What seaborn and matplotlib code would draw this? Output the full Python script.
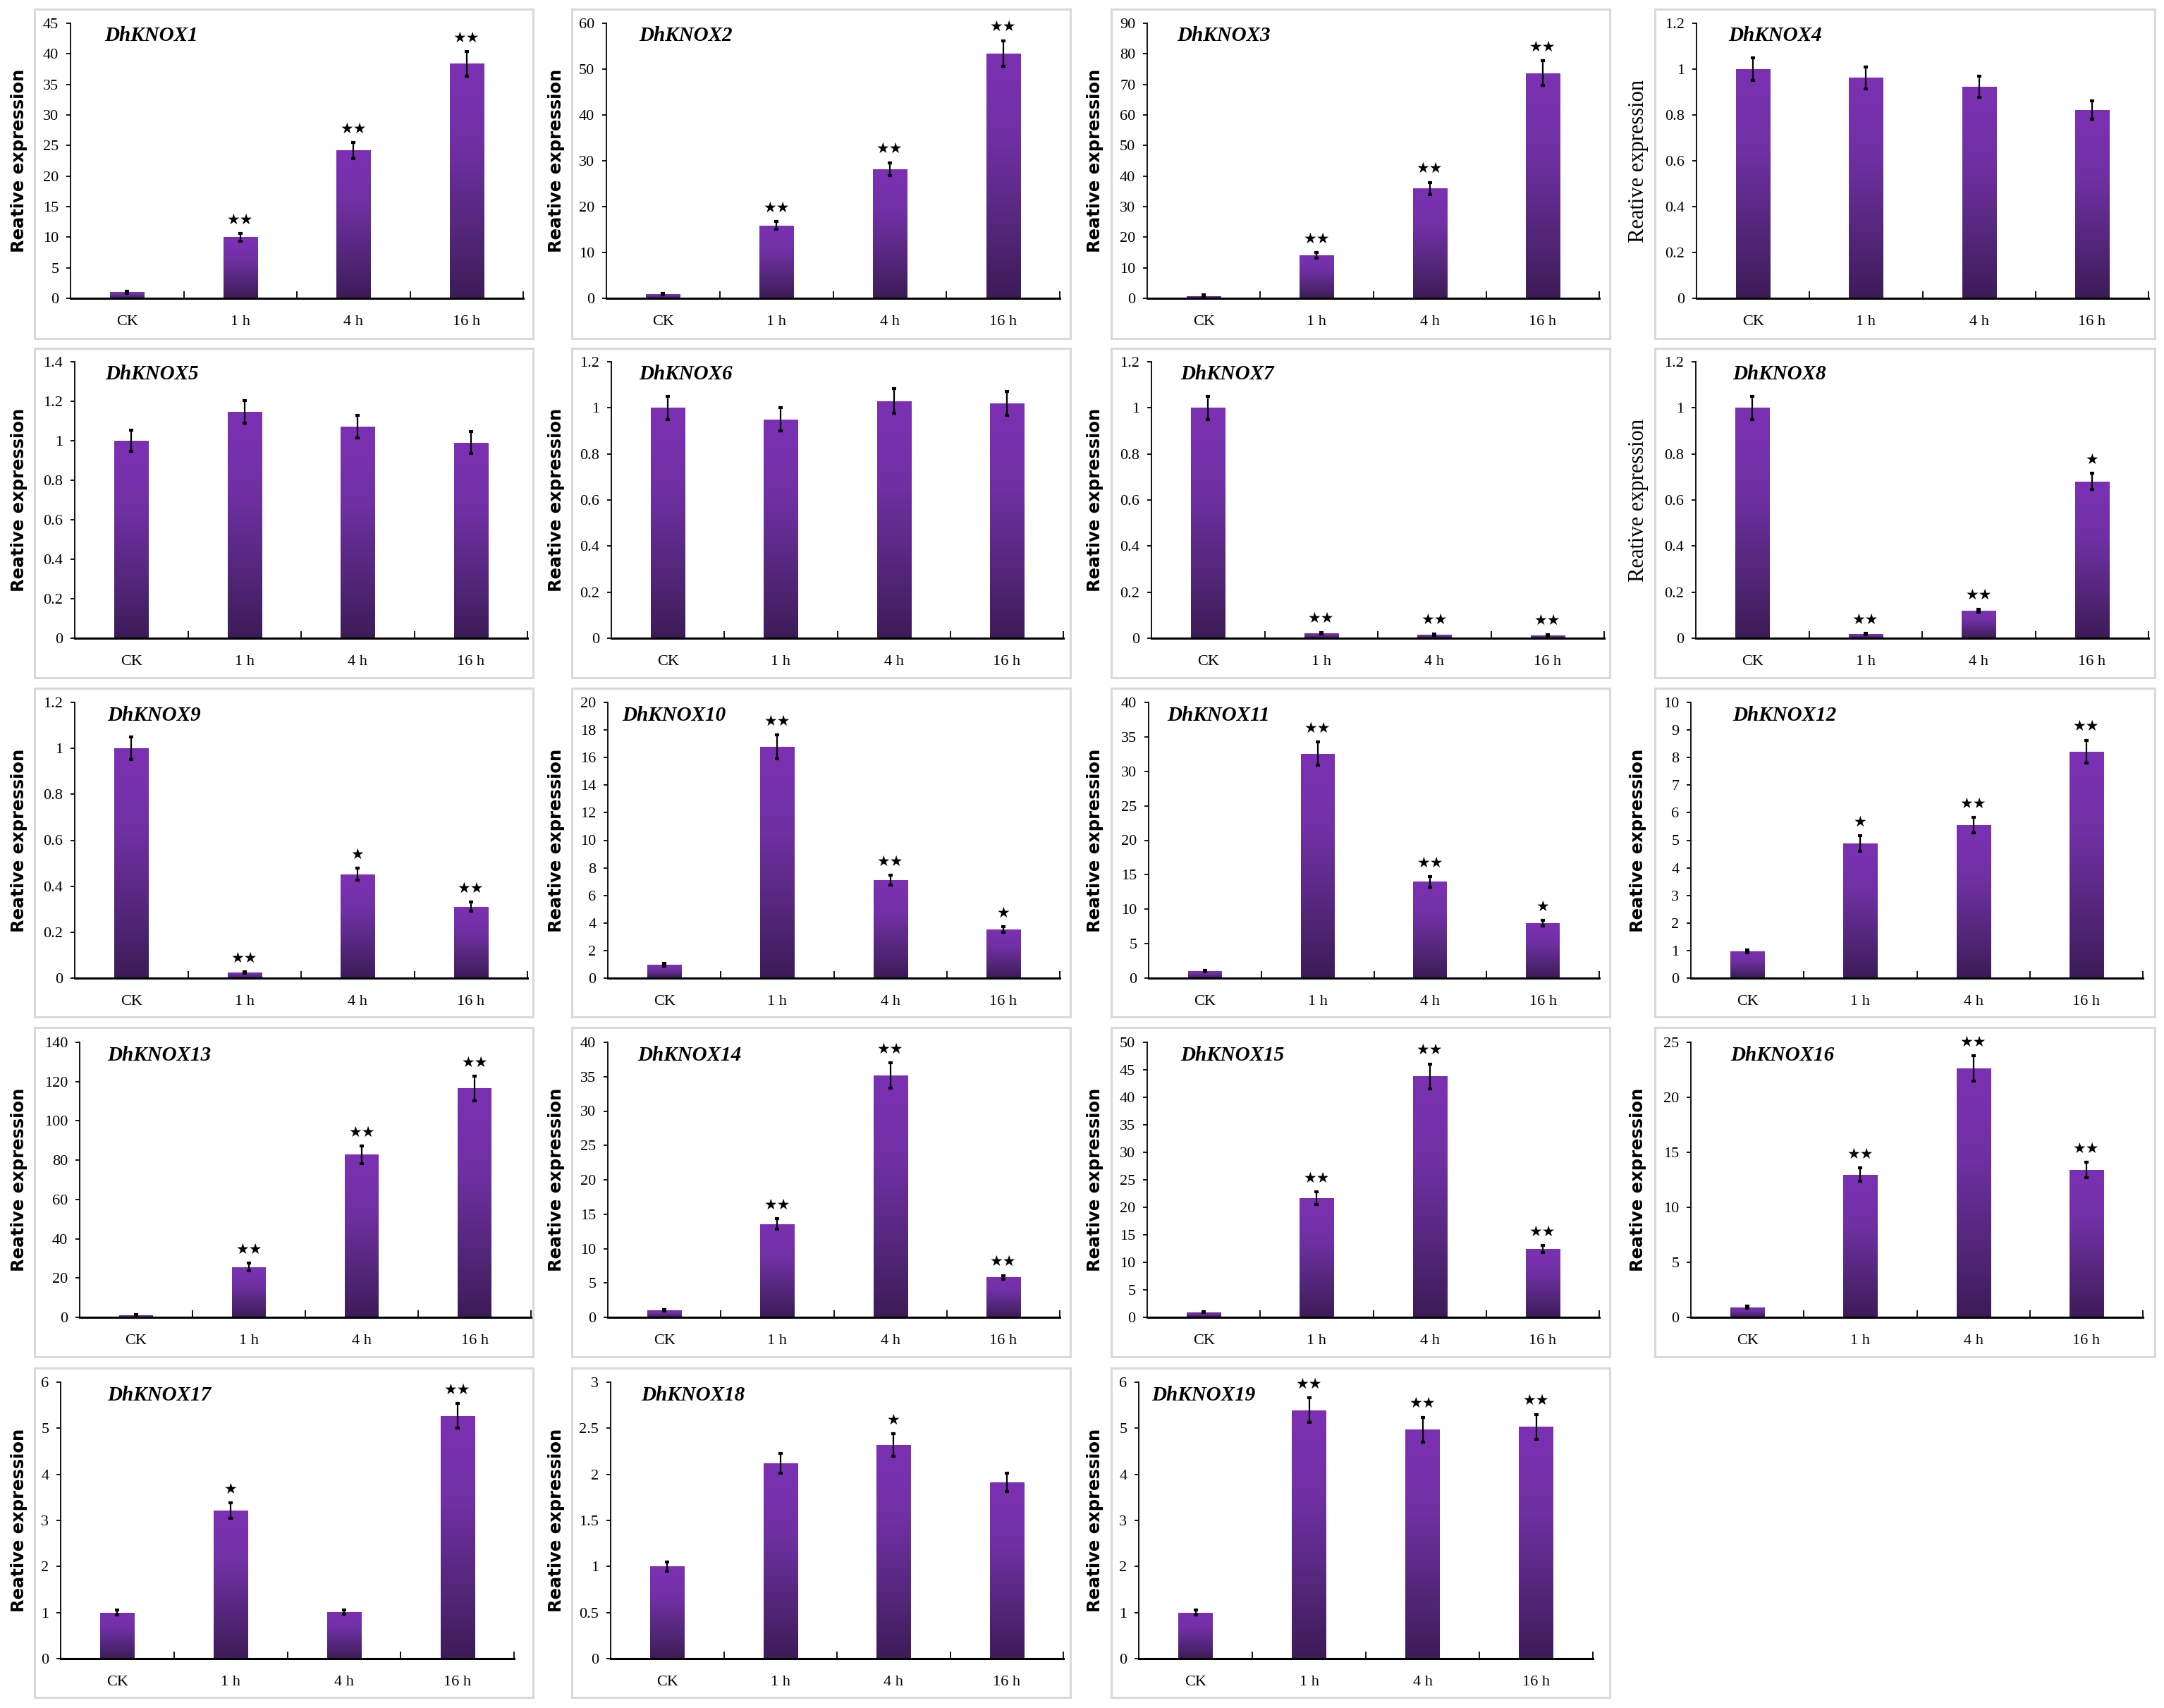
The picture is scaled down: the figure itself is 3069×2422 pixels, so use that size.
import numpy as np
import pandas as pd
import matplotlib
matplotlib.use("Agg")
import matplotlib.pyplot as plt
import seaborn as sns
from matplotlib.patches import Rectangle
from matplotlib.colors import LinearSegmentedColormap
from matplotlib.ticker import FixedLocator, FuncFormatter

# ---------------- data ----------------
categories = ["CK", "1 h", "4 h", "16 h"]
genes = ["DhKNOX1", "DhKNOX2", "DhKNOX3", "DhKNOX4", "DhKNOX5", "DhKNOX6",
         "DhKNOX7", "DhKNOX8", "DhKNOX9", "DhKNOX10", "DhKNOX11", "DhKNOX12",
         "DhKNOX13", "DhKNOX14", "DhKNOX15", "DhKNOX16", "DhKNOX17", "DhKNOX18",
         "DhKNOX19"]
y_max = [45, 60, 90, 1.2, 1.4, 1.2, 1.2, 1.2, 1.2, 20, 40, 10, 140, 40, 50, 25, 6, 3, 6]
y_step = [5, 10, 10, 0.2, 0.2, 0.2, 0.2, 0.2, 0.2, 2, 5, 1, 20, 5, 5, 5, 1, 0.5, 1]
expr = [
    [1.0, 10.0, 24.2, 38.4],
    [0.9, 15.9, 28.2, 53.4],
    [0.8, 14.1, 35.9, 73.7],
    [1.0, 0.962, 0.923, 0.822],
    [1.0, 1.147, 1.072, 0.99],
    [1.0, 0.95, 1.03, 1.02],
    [1.0, 0.022, 0.016, 0.013],
    [1.0, 0.018, 0.12, 0.68],
    [1.0, 0.024, 0.452, 0.311],
    [0.96, 16.76, 7.09, 3.51],
    [1.0, 32.58, 13.98, 7.97],
    [0.98, 4.89, 5.55, 8.22],
    [1.0, 25.6, 82.8, 116.5],
    [0.99, 13.58, 35.15, 5.8],
    [0.94, 21.67, 43.8, 12.4],
    [0.92, 12.96, 22.63, 13.4],
    [1.0, 3.21, 1.01, 5.27],
    [1.0, 2.12, 2.32, 1.91],
    [1.0, 5.39, 4.97, 5.03],
]
err = [
    [0.15, 0.6, 1.3, 2.0],
    [0.2, 0.8, 1.4, 2.8],
    [0.3, 0.9, 2.0, 4.0],
    [0.05, 0.048, 0.047, 0.04],
    [0.053, 0.057, 0.058, 0.055],
    [0.05, 0.05, 0.055, 0.052],
    [0.05, 0.004, 0.003, 0.003],
    [0.05, 0.003, 0.006, 0.035],
    [0.05, 0.004, 0.026, 0.019],
    [0.1, 0.87, 0.36, 0.2],
    [0.12, 1.7, 0.75, 0.4],
    [0.05, 0.28, 0.28, 0.41],
    [0.3, 1.9, 4.4, 6.2],
    [0.1, 0.78, 1.84, 0.3],
    [0.1, 1.15, 2.26, 0.64],
    [0.1, 0.62, 1.13, 0.68],
    [0.05, 0.17, 0.04, 0.27],
    [0.05, 0.11, 0.12, 0.1],
    [0.05, 0.27, 0.27, 0.27],
]
sig = [
    ["", "**", "**", "**"],
    ["", "**", "**", "**"],
    ["", "**", "**", "**"],
    ["", "", "", ""],
    ["", "", "", ""],
    ["", "", "", ""],
    ["", "**", "**", "**"],
    ["", "**", "**", "*"],
    ["", "**", "*", "**"],
    ["", "**", "**", "*"],
    ["", "**", "**", "*"],
    ["", "*", "**", "**"],
    ["", "**", "**", "**"],
    ["", "**", "**", "**"],
    ["", "**", "**", "**"],
    ["", "**", "**", "**"],
    ["", "*", "", "**"],
    ["", "", "*", ""],
    ["", "**", "**", "**"],
]
ylabel_text = "Reative expression"

# ---------------- layout (pixels) ----------------
W, H = 3069, 2422
axes_lr = [(100, 742), (860, 1503), (1627, 2268), (2406, 3047),
           (106, 748), (867, 1508), (1633, 2275), (2405, 3047),
           (106, 748), (862, 1503), (1629, 2268), (2398, 3039),
           (113, 753), (862, 1503), (1627, 2268), (2398, 3039),
           (86, 729), (866, 1508), (1615, 2259)]
row_tb = [(33, 423), (513, 905), (996, 1387), (1478, 1868), (1960, 2352)]
frame_x = [(49, 756), (811, 1518), (1576, 2283), (2347, 3056)]
frame_y = [(13, 480), (494, 961), (976, 1442), (1457, 1924), (1940, 2407)]
label_x = [27, 789, 1553, 2323]
title_dx = [48, 46, 42, 45, 43, 39, 41, 52, 46, 20, 26, 59, 39, 42, 47, 56, 66, 43, 18]
serif_label_panels = {3, 7}

sns.set_theme(style="ticks")
plt.rcParams["font.family"] = ["Liberation Serif", "DejaVu Sans"]
plt.rcParams["axes.unicode_minus"] = False

fig = plt.figure(figsize=(W / 100, H / 100), dpi=100)
fig.patch.set_facecolor("white")

cmap = LinearSegmentedColormap.from_list(
    "purp", [(0.0, "#3D1B57"), (0.3, "#55277C"), (0.65, "#7030A4"), (1.0, "#7C31B4")])
grad = np.linspace(0, 1, 256).reshape(-1, 1)

# panel frames
for k in range(19):
    r, c = divmod(k, 4)
    fx0, fx1 = frame_x[c]
    fy0, fy1 = frame_y[r]
    fig.add_artist(Rectangle((fx0 / W, 1 - fy1 / H), (fx1 - fx0) / W, (fy1 - fy0) / H,
                             transform=fig.transFigure, fill=False,
                             ec="#d9d9d9", lw=2.2, zorder=0))

fmt = FuncFormatter(lambda v, p: "{:g}".format(round(v, 6)))

for k in range(19):
    r, c = divmod(k, 4)
    l, rr = axes_lr[k]
    t, b = row_tb[r]
    ax = fig.add_axes([l / W, 1 - b / H, (rr - l) / W, (b - t) / H])
    ax.set_facecolor("none")
    df = pd.DataFrame({"time": categories, "value": expr[k]})
    sns.barplot(data=df, x="time", y="value", order=categories, ax=ax,
                width=0.3, color="#7030A4", errorbar=None)

    # gradient fill of each bar
    for p in list(ax.patches):
        x0, y0 = p.get_x(), p.get_y()
        w, h = p.get_width(), p.get_height()
        im = ax.imshow(grad, extent=[x0, x0 + w, y0, y0 + h], origin="lower",
                       cmap=cmap, aspect="auto", zorder=2, interpolation="bilinear")
        im.set_clip_path(p)
        p.set_facecolor("none")
        p.set_edgecolor("none")

    centers = [p.get_x() + p.get_width() / 2 for p in ax.patches]
    ax.errorbar(centers, expr[k], yerr=err[k], fmt="none", ecolor="black",
                elinewidth=1.6, capsize=2.4, capthick=3, zorder=4)

    for xc, v, e, s in zip(centers, expr[k], err[k], sig[k]):
        if s:
            ax.annotate("\u2605" * len(s), xy=(xc, v + e), xytext=(0, 14),
                        textcoords="offset points", ha="center", va="center",
                        fontsize=15, family=["DejaVu Sans"], color="black", zorder=5)

    ax.set_xlim(-0.5, 3.5)
    ax.set_ylim(0, y_max[k])
    n = int(round(y_max[k] / y_step[k]))
    ax.yaxis.set_major_locator(FixedLocator(np.linspace(0, y_max[k], n + 1)))
    ax.yaxis.set_major_formatter(fmt)
    ax.xaxis.set_minor_locator(FixedLocator([0.5, 1.5, 2.5, 3.5]))

    for sp in ("top", "right"):
        ax.spines[sp].set_visible(False)
    ax.spines["left"].set_linewidth(1.3)
    ax.spines["left"].set_color("black")
    ax.spines["bottom"].set_linewidth(2.2)
    ax.spines["bottom"].set_color("black")
    ax.spines["bottom"].set_zorder(6)

    ax.tick_params(axis="y", which="major", direction="out", length=4, width=1.3,
                   color="black", labelsize=16, pad=8, labelcolor="black")
    ax.tick_params(axis="x", which="major", length=0, labelsize=16, pad=17,
                   labelcolor="black")
    ax.tick_params(axis="x", which="minor", direction="in", length=7, width=1.3,
                   color="black")
    for lab in ax.get_xticklabels() + ax.get_yticklabels():
        lab.set_family(["Liberation Serif"])

    ax.set_xlabel("")
    if k in serif_label_panels:
        ax.set_ylabel(ylabel_text, fontsize=22, family=["Liberation Serif"],
                      color="black", va="center")
    else:
        ax.set_ylabel(ylabel_text, fontsize=17.5, family=["DejaVu Sans"],
                      fontweight="bold", color="black", va="center")
    ax.yaxis.set_label_coords((label_x[c] - l) / (rr - l), 0.5)

    ax.text(title_dx[k] / (rr - l), 1 - 18 / (b - t), genes[k],
            transform=ax.transAxes, ha="left", va="center", fontsize=21,
            fontstyle="italic", fontweight="bold", family=["Liberation Serif"],
            color="black", zorder=6)

fig.savefig("out.png", dpi=100, facecolor="white")
